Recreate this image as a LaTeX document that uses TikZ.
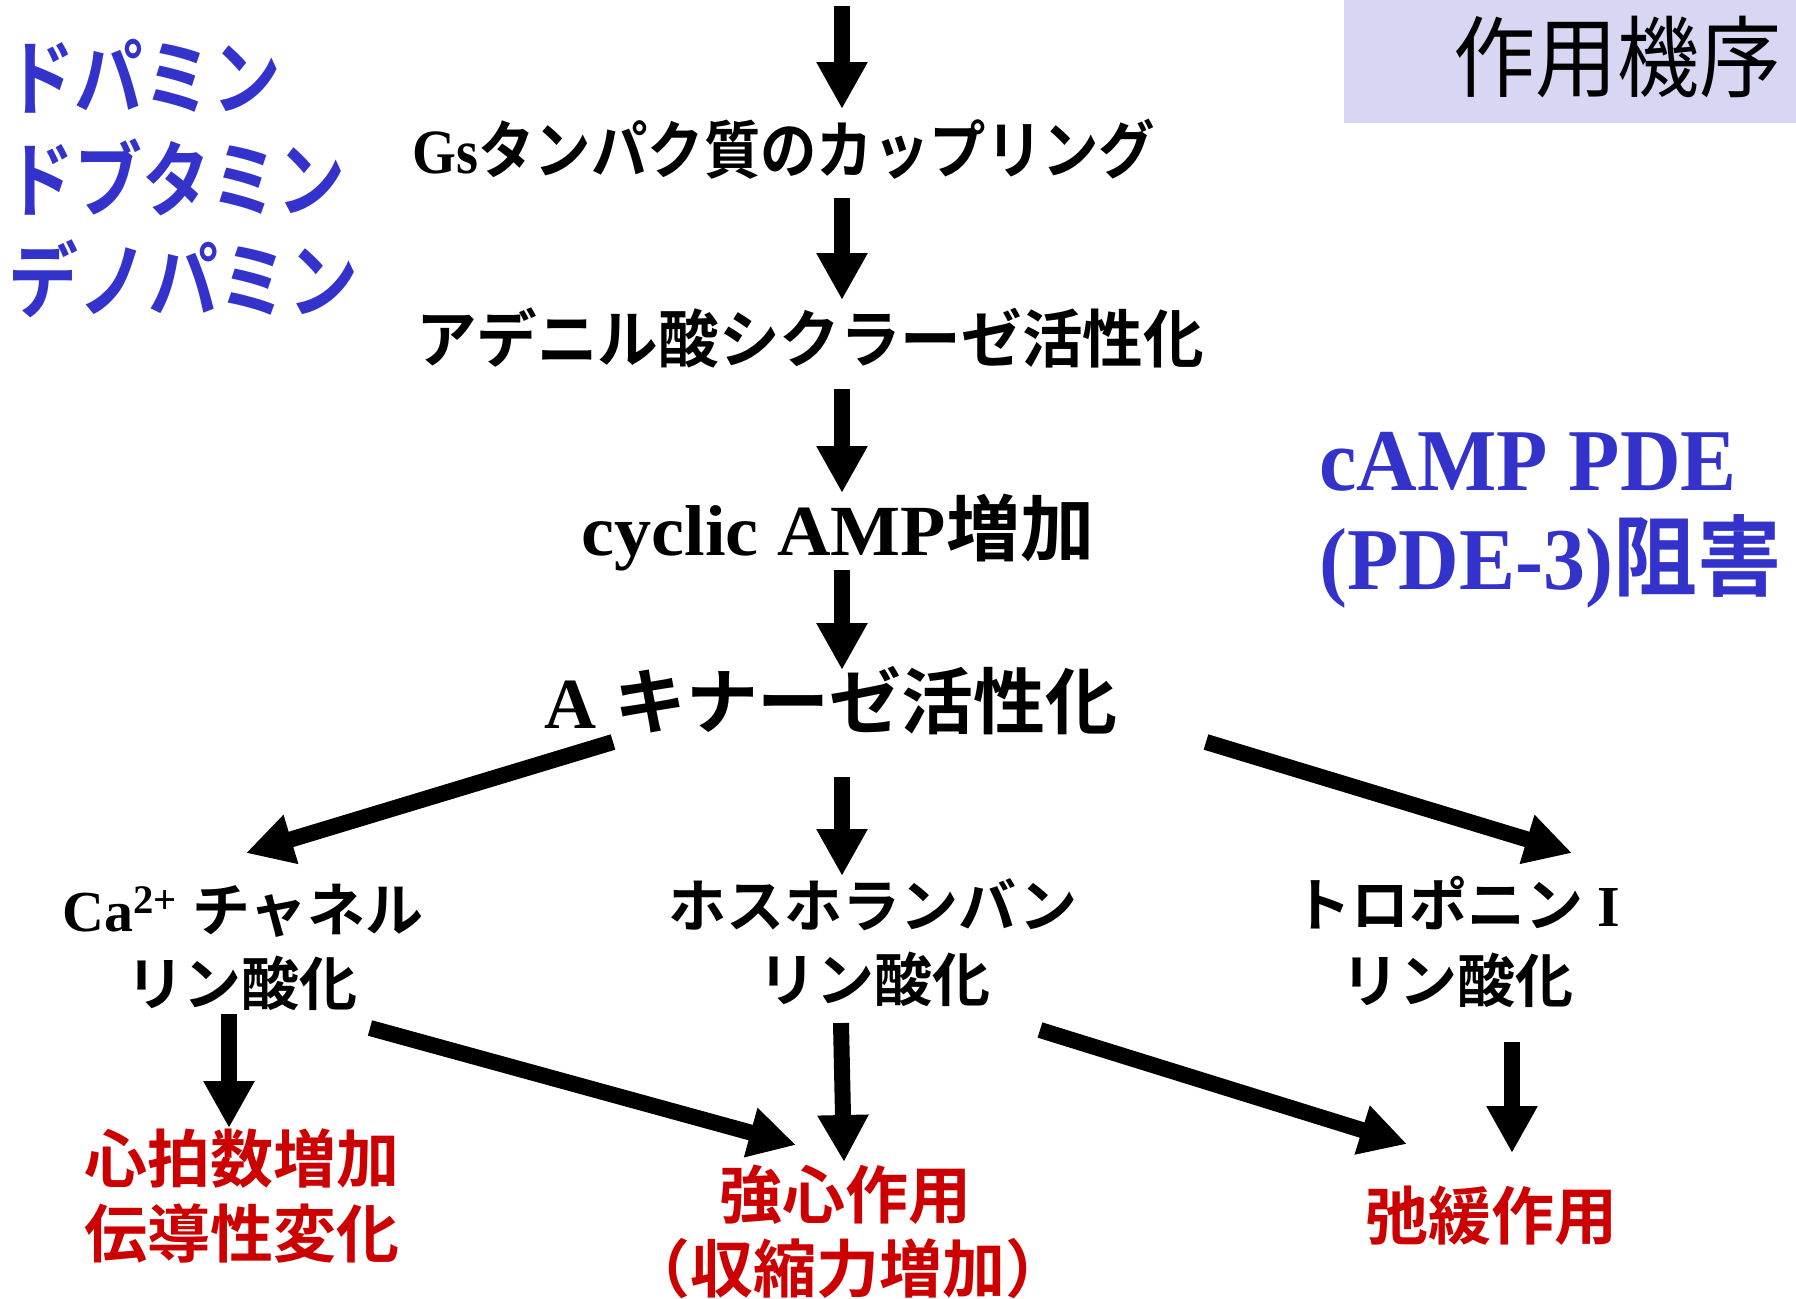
\documentclass[tikz,border=0pt]{standalone}
\usepackage{fontspec}
\setmainfont{Liberation Serif}
\newfontfamily\jp{Noto Sans CJK JP}[BoldFont={Noto Sans CJK JP Bold}]
\usetikzlibrary{arrows.meta}
\definecolor{ablue}{RGB}{51,51,204}
\definecolor{ared}{RGB}{204,0,0}
\definecolor{hdr}{RGB}{215,215,243}
\newcommand{\J}[1]{{\jp\bfseries #1}}
\begin{document}
\begin{tikzpicture}[x=0.5pt,y=-0.5pt,
  arr/.style={line width=8pt,-{Triangle[length=23.5pt,width=24pt]}},
  txt/.style={inner sep=0pt,anchor=center},
  fchain/.style={font=\fontsize{30pt}{36pt}\selectfont\bfseries},
  fbig/.style={font=\fontsize{36pt}{43pt}\selectfont\bfseries},
  fmid/.style={font=\fontsize{29pt}{35pt}\selectfont\bfseries},
  fred/.style={font=\fontsize{31.5pt}{38pt}\selectfont\bfseries,text=ared},
  fdrug/.style={font=\fontsize{35pt}{42pt}\selectfont\bfseries,text=ablue,inner sep=0pt,anchor=west},
  fpde/.style={font=\fontsize{42pt}{50pt}\selectfont\bfseries,text=ablue,inner sep=0pt,anchor=west}]
\useasboundingbox (0,0) rectangle (1796,1298);

% header
\fill[hdr] (1344,0) rectangle (1796,123);
\node[inner sep=0pt,anchor=east,font=\fontsize{41pt}{49pt}\selectfont\jp] (hdr) at (1782,57) {\scalebox{1}[1.08]{作用機序}};

% drug names
\node[fdrug] (d1) at (6,76) {\scalebox{0.98}[1.18]{\J{ドパミン}}};
\node[fdrug] (d2) at (6,177) {\scalebox{0.97}[1.18]{\J{ドブタミン}}};
\node[fdrug] (d3) at (8,279) {\scalebox{1}[1.18]{\J{デノパミン}}};

% PDE text
\node[fpde] (p1) at (1319,462) {\scalebox{1}[1.05]{cAMP PDE}};
\node[fpde] (p2) at (1319,561) {\scalebox{1}[1.05]{(PDE-3)\J{阻害}}};

% chain
\node[txt,fchain] (gs) at (784,149) {\scalebox{0.94}[1.05]{Gs\J{タンパク質のカップリング}}};
\node[txt,fchain] (ac) at (810,338) {\scalebox{1.01}[1.05]{\J{アデニル酸シクラーゼ活性化}}};
\node[txt,fbig] (camp) at (838,533) {\scalebox{1.03}[1]{cyclic AMP\J{増加}}};
\node[txt,fbig] (pka) at (831,701) {A \J{キナーゼ活性化}};

% second level
\node[txt,fmid] (ca1) at (243,911) {Ca\textsuperscript{2+} \J{チャネル}};
\node[txt,fmid] (ca2) at (242,983) {\J{リン酸化}};
\node[txt,fmid] (pl1) at (873,905) {\J{ホスホランバン}};
\node[txt,fmid] (pl2) at (874,979) {\J{リン酸化}};
\node[txt,fmid] (tn1) at (1457,903) {\J{トロポニン} I};
\node[txt,fmid] (tn2) at (1457,980) {\J{リン酸化}};

% effects
\node[txt,fred] (e1a) at (242,1159) {\J{心拍数増加}};
\node[txt,fred] (e1b) at (242,1234) {\J{伝導性変化}};
\node[txt,fred] (e2a) at (845,1195) {\J{強心作用}};
\node[txt,fred] (e2b) at (848,1269) {\J{（収縮力増加）}};
\node[txt,fred] (e3) at (1491,1216) {\J{弛緩作用}};

% arrow end points
\coordinate (in) at (842,6);
\coordinate (a0e) at (842,109);
\coordinate (a1s) at (842,198);
\coordinate (a1e) at (842,300);
\coordinate (a2s) at (842,389);
\coordinate (a2e) at (842,493);
\coordinate (a3s) at (842,570);
\coordinate (a3e) at (842,670);
\coordinate (k1s) at (613,742);
\coordinate (k1e) at (246,853);
\coordinate (k2s) at (842,777);
\coordinate (k2e) at (842,876);
\coordinate (k3s) at (1206,742);
\coordinate (k3e) at (1572,853);
\coordinate (c1s) at (229,1014);
\coordinate (c1e) at (229,1128);
\coordinate (c2s) at (370,1028);
\coordinate (c2e) at (796,1145);
\coordinate (m1s) at (841,1023);
\coordinate (m1e) at (844,1162);
\coordinate (m2s) at (1040,1030);
\coordinate (m2e) at (1407,1144);
\coordinate (t1s) at (1512,1042);
\coordinate (t1e) at (1512,1153);

\draw[arr] (in) -- (a0e);
\draw[arr] (a1s) -- (a1e);
\draw[arr] (a2s) -- (a2e);
\draw[arr] (a3s) -- (a3e);
\draw[arr] (k1s) -- (k1e);
\draw[arr] (k2s) -- (k2e);
\draw[arr] (k3s) -- (k3e);
\draw[arr] (c1s) -- (c1e);
\draw[arr] (c2s) -- (c2e);
\draw[arr] (m1s) -- (m1e);
\draw[arr] (m2s) -- (m2e);
\draw[arr] (t1s) -- (t1e);
\end{tikzpicture}
\end{document}
